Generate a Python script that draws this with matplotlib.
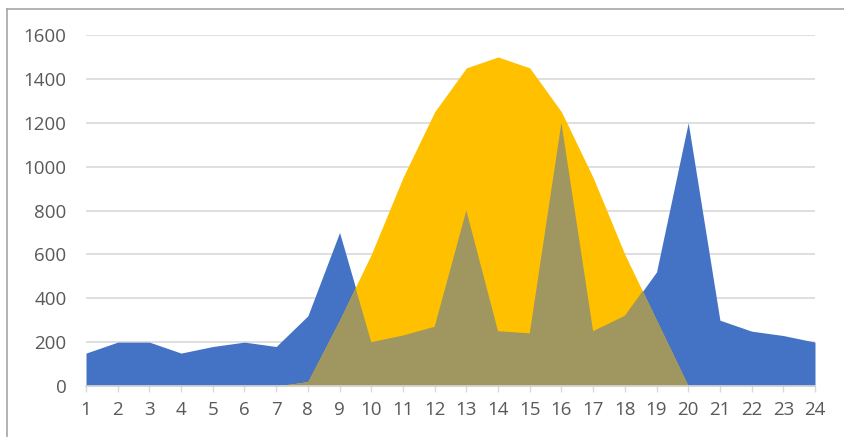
import numpy as np
import matplotlib.pyplot as plt
from matplotlib.lines import Line2D

# hourly load and PV output
hours = np.arange(1, 25)
load = [150, 200, 200, 150, 180, 200, 180, 320, 700, 200, 230, 270,
        800, 250, 240, 1200, 250, 320, 520, 1200, 300, 250, 230, 200]
solar = [0, 0, 0, 0, 0, 0, 0, 20, 300, 600, 950, 1250,
         1450, 1500, 1450, 1250, 950, 600, 300, 0, 0, 0, 0, 0]
y_ticks = [0, 200, 400, 600, 800, 1000, 1200, 1400, 1600]

BLUE = '#4472C4'
YELLOW = '#FFC000'
OLIVE = '#A09760'
GRID = '#D9D9D9'
TEXT = '#595959'

plt.rcParams['font.family'] = ['Open Sans', 'DejaVu Sans']

fig = plt.figure(figsize=(8.45, 4.37), dpi=100)
ax = fig.add_axes([86 / 845, 1 - 386 / 437, (815 - 86) / 845, (386 - 35) / 437])

blue = ax.fill_between(hours, 0, load, color=BLUE, lw=0, zorder=2)
ax.fill_between(hours, 0, solar, color=YELLOW, lw=0, zorder=3)
# overlap of the two areas
overlap = ax.fill_between(hours, 0, solar, color=OLIVE, lw=0, zorder=4)
overlap.set_clip_path(blue.get_paths()[0], ax.transData)

ax.set_xlim(1, 24)
ax.set_ylim(0, 1600)
ax.set_xticks(hours)
ax.set_yticks(y_ticks)
ax.yaxis.grid(True, color=GRID, lw=1.2, zorder=0)
ax.set_axisbelow(True)

for side in ['left', 'right', 'top']:
    ax.spines[side].set_visible(False)
ax.spines['bottom'].set_color(GRID)
ax.spines['bottom'].set_linewidth(1.2)
ax.spines['bottom'].set_zorder(5)

ax.tick_params(axis='y', length=0, pad=14, labelsize=13.5, labelcolor=TEXT)
ax.tick_params(axis='x', length=4, width=1, color=GRID, pad=7,
               labelsize=13.5, labelcolor=TEXT)

# outer frame, left and top edges
fig.add_artist(Line2D([7 / 845, 7 / 845], [0, 1 - 9 / 437], color='#A6A6A6', lw=1.2))
fig.add_artist(Line2D([7 / 845, 1], [1 - 9 / 437, 1 - 9 / 437], color='#A6A6A6', lw=1.2))

fig.savefig('out.png', dpi=100)
